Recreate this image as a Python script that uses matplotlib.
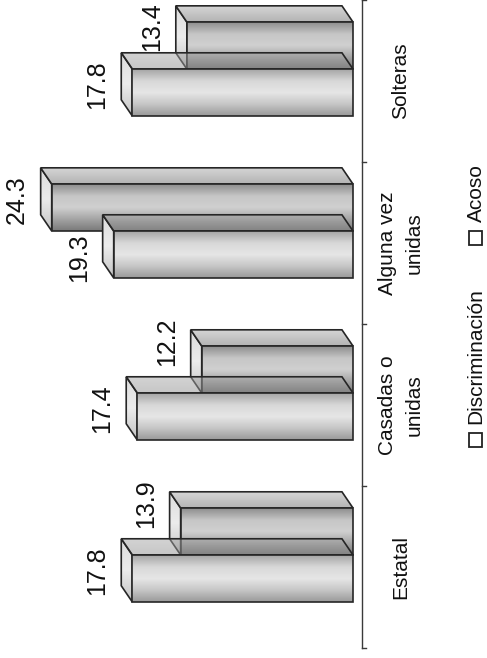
import numpy as np
import matplotlib.pyplot as plt
from matplotlib.patches import Polygon, Rectangle
from matplotlib.colors import LinearSegmentedColormap

categorias = ["Estatal", "Casadas o\nunidas", "Alguna vez\nunidas", "Solteras"]
discriminacion = [17.8, 17.4, 19.3, 17.8]
acoso = [13.9, 12.2, 24.3, 13.4]
series = ["Discriminación", "Acoso"]

plt.rcParams['font.family'] = ['Liberation Sans', 'DejaVu Sans']

W, H = 487, 658
fig = plt.figure(figsize=(W / 100, H / 100), dpi=100)
ax = fig.add_axes([0, 0, 1, 1])
# grafica girada: los valores crecen hacia la izquierda
ax.set_xlim(28.47, -10.81)
ax.set_ylim(-0.562, 3.5)
ax.axis('off')

ancho = 0.29   # grosor de cada barra (unidades de categoria)
dx = 0.89      # profundidad 3D en unidades de valor
dy = 0.10      # profundidad 3D en unidades de categoria

cm_frente = LinearSegmentedColormap.from_list(
    'frente', ['#9a9a9a', '#c6c6c6', '#e6e6e6', '#d8d8d8', '#a6a6a6'])
cm_frente_atras = LinearSegmentedColormap.from_list(
    'frente2', ['#7a7a7a', '#a4a4a4', '#d0d0d0', '#c6c6c6', '#8e8e8e'])
cm_lado = LinearSegmentedColormap.from_list('lado', ['#b4b4b4', '#d6d6d6'])
cm_lado2 = LinearSegmentedColormap.from_list('lado2', ['#8e8e8e', '#a8a8a8'])
cm_punta = LinearSegmentedColormap.from_list('punta', ['#c4c4c4', '#ececec', '#dcdcdc'])

z = [2.0]
etiquetas = []


def cara(pts, cmap, alpha=1.0):
    poly = Polygon(pts, closed=True, fc='none', ec='#262626', lw=1.2,
                   zorder=z[0] + 0.1, joinstyle='miter')
    ax.add_patch(poly)
    xs = [p[0] for p in pts]
    ys = [p[1] for p in pts]
    grad = np.linspace(0, 1, 64).reshape(-1, 1)
    im = ax.imshow(grad, extent=(min(xs), max(xs), min(ys), max(ys)),
                   origin='lower', cmap=cmap, aspect='auto', alpha=alpha,
                   zorder=z[0], interpolation='bilinear')
    im.set_clip_path(poly)
    z[0] += 0.2


def barra(valor, u0, cm_f, cm_top, alpha_top, subir=0.0):
    u1 = u0 + ancho
    cara([(valor, u0), (valor, u1), (valor + dx, u1 + dy), (valor + dx, u0 + dy)], cm_punta)
    cara([(valor, u1), (0, u1), (dx, u1 + dy), (valor + dx, u1 + dy)], cm_top, alpha_top)
    cara([(0, u0), (valor, u0), (valor, u1), (0, u1)], cm_f)
    t = ax.text(valor + dx + 0.95, u0 + ancho / 2 + subir, f'{valor:.1f}',
                rotation=90, ha='right', va='center', fontsize=18, color='#111', zorder=20)
    etiquetas.append(t)


for c in range(len(categorias)):
    # las etiquetas se apartan de la barra vecina mas larga
    if discriminacion[c] > acoso[c]:
        sub_a, sub_d = dy / 2 + 0.12, dy / 2
    else:
        sub_a, sub_d = dy / 2, -0.02
    barra(acoso[c], c + 0.074, cm_frente_atras, cm_lado, 1.0, sub_a)
    barra(discriminacion[c], c - 0.216, cm_frente, cm_lado2, 0.5, sub_d)

# eje de categorias
ax.plot([-0.73, -0.73], [-0.5, 3.5], color='#3a3a3a', lw=1.0, zorder=20)
for b in np.arange(-0.5, 3.6, 1.0):
    ax.plot([-0.73, -1.05], [b, b], color='#3a3a3a', lw=1.0, zorder=20)

for c, nombre in enumerate(categorias):
    ax.text(-3.87, c, nombre, rotation=90, ha='center', va='center', fontsize=15,
            linespacing=1.5, multialignment='center', color='#111', zorder=20)

# leyenda (girada)
for nombre, y_txt, y_box in [(series[0], 424, 447), (series[1], 222, 245)]:
    fig.add_artist(Rectangle((469 / W, 1 - y_box / H), 13 / W, 14 / H,
                             transform=fig.transFigure, fc='white', ec='#222', lw=1.3))
    fig.text(476 / W, 1 - y_txt / H, nombre, rotation=90, ha='center', va='bottom',
             fontsize=15, color='#111')

# que ninguna etiqueta quede cortada en el borde superior
fig.canvas.draw()
r = fig.canvas.get_renderer()
for t in etiquetas:
    bb = t.get_window_extent(r)
    if bb.y1 > H - 2:
        x, y = t.get_position()
        sy = ax.transData.transform((x, y))[1] - (bb.y1 - (H - 2))
        t.set_y(ax.transData.inverted().transform((0, sy))[1])

fig.savefig('out.png', dpi=100)
